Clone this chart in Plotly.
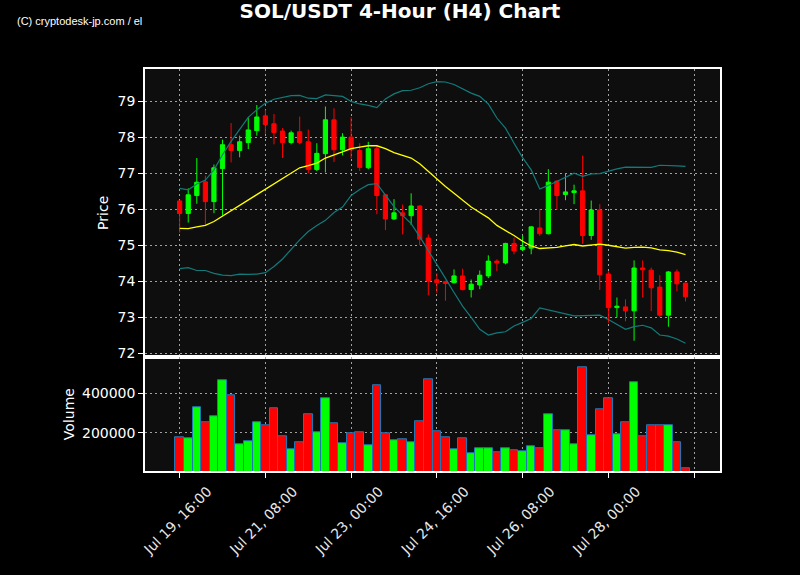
import pandas as pd
import plotly.graph_objects as go

# ---- data ----
start_time = "2024-07-19 16:00"
n_candles = 60

open_ = [76.23, 75.88, 76.38, 76.76, 76.21, 77.13, 77.79, 77.63, 77.85, 78.18,
         78.59, 78.37, 78.17, 77.85, 78.15, 77.87, 77.10, 77.54, 78.48, 77.65,
         78.00, 77.63, 77.15, 77.68, 76.40, 75.73, 75.90, 75.82, 76.09, 75.20,
         74.04, 73.99, 73.96, 74.15, 73.77, 73.90, 74.15, 74.56, 74.51, 75.05,
         74.88, 74.92, 75.48, 75.32, 76.78, 76.41, 76.46, 76.51, 75.27, 75.98,
         74.20, 73.27, 73.29, 73.18, 74.37, 74.31, 73.84, 73.06, 74.26, 73.95]
close = [75.88, 76.40, 76.75, 76.21, 77.15, 77.79, 77.63, 77.87, 78.20, 78.56,
         78.35, 78.13, 77.85, 78.12, 77.85, 77.10, 77.55, 78.48, 77.65, 78.00,
         77.65, 77.16, 77.68, 76.38, 75.73, 75.90, 75.82, 76.09, 75.17, 74.01,
         73.96, 73.94, 74.15, 73.77, 73.92, 74.17, 74.56, 74.51, 75.05, 74.84,
         74.95, 75.51, 75.32, 76.75, 76.38, 76.48, 76.51, 75.27, 75.98, 74.18,
         73.27, 73.31, 73.18, 74.37, 74.32, 73.82, 73.06, 74.26, 73.93, 73.57]
high = [76.25, 76.58, 77.42, 76.93, 77.24, 77.93, 78.39, 78.04, 78.55, 78.89,
        78.76, 78.64, 78.25, 78.18, 78.57, 78.21, 77.83, 78.85, 78.80, 78.11,
        78.55, 77.83, 77.87, 77.76, 76.42, 76.28, 76.13, 76.44, 76.11, 75.30,
        74.22, 74.02, 74.33, 74.35, 74.05, 74.30, 74.72, 74.61, 75.07, 75.21,
        75.28, 75.53, 76.01, 77.11, 76.80, 77.00, 76.68, 77.49, 76.24, 76.14,
        74.28, 73.55, 73.50, 74.58, 74.58, 74.38, 74.17, 74.28, 74.33, 73.97]
low = [75.35, 75.63, 76.15, 75.55, 75.89, 75.82, 77.30, 77.44, 77.67, 78.04,
       78.09, 77.80, 77.42, 77.80, 77.80, 77.00, 77.06, 77.02, 77.31, 77.49,
       77.41, 77.06, 77.11, 75.86, 75.42, 75.70, 75.30, 75.56, 75.00, 73.61,
       73.68, 73.46, 73.94, 73.75, 73.55, 73.78, 74.09, 74.28, 74.47, 74.75,
       74.84, 74.75, 75.26, 75.30, 75.98, 76.25, 76.14, 75.04, 75.15, 73.76,
       72.85, 73.00, 72.89, 72.35, 73.55, 73.17, 73.00, 72.74, 73.72, 73.44]
volume = [180000, 175000, 330000, 255000, 285000, 465000, 388000, 145000, 158000, 255000,
          240000, 325000, 185000, 118000, 155000, 295000, 205000, 375000, 250000, 150000,
          200000, 205000, 140000, 440000, 200000, 165000, 170000, 155000, 260000, 470000,
          210000, 180000, 115000, 175000, 95000, 120000, 125000, 100000, 125000, 110000,
          105000, 135000, 125000, 295000, 215000, 215000, 145000, 530000, 190000, 320000,
          375000, 195000, 255000, 455000, 185000, 240000, 236000, 240000, 155000, 20000]
ma20 = [75.47, 75.46, 75.51, 75.55, 75.66, 75.81, 75.96, 76.11, 76.26, 76.42,
        76.56, 76.72, 76.86, 77.01, 77.15, 77.21, 77.28, 77.42, 77.50, 77.58,
        77.68, 77.72, 77.76, 77.76, 77.68, 77.57, 77.50, 77.42, 77.26, 77.05,
        76.83, 76.63, 76.44, 76.24, 76.06, 75.91, 75.76, 75.55, 75.42, 75.27,
        75.11, 74.98, 74.91, 74.92, 74.94, 74.98, 75.02, 74.98, 75.01, 75.03,
        75.00, 74.97, 74.92, 74.94, 74.95, 74.93, 74.87, 74.85, 74.81, 74.74]
bb_upper = [76.58, 76.54, 76.70, 76.81, 77.09, 77.51, 77.88, 78.22, 78.55, 78.76,
            78.94, 79.05, 79.11, 79.15, 79.16, 79.08, 79.07, 79.17, 79.15, 79.13,
            78.99, 78.92, 78.88, 78.82, 79.06, 79.20, 79.29, 79.30, 79.37, 79.48,
            79.54, 79.53, 79.46, 79.34, 79.22, 79.13, 78.92, 78.53, 78.25, 77.83,
            77.43, 77.09, 76.56, 76.66, 76.78, 76.89, 77.00, 76.91, 76.98, 76.99,
            77.06, 77.12, 77.17, 77.16, 77.15, 77.16, 77.22, 77.22, 77.20, 77.19]
bb_lower = [74.35, 74.38, 74.30, 74.30, 74.22, 74.17, 74.16, 74.20, 74.19, 74.20,
            74.24, 74.41, 74.62, 74.89, 75.15, 75.38, 75.55, 75.69, 75.91, 76.06,
            76.38, 76.55, 76.68, 76.71, 76.39, 76.07, 75.83, 75.60, 75.24, 74.84,
            74.46, 74.08, 73.69, 73.31, 73.00, 72.67, 72.51, 72.57, 72.60, 72.76,
            72.86, 72.97, 73.26, 73.20, 73.15, 73.09, 73.04, 73.05, 73.05, 73.06,
            72.94, 72.81, 72.67, 72.74, 72.78, 72.71, 72.51, 72.48, 72.40, 72.28]

tick_times = ["2024-07-19 16:00", "2024-07-21 08:00", "2024-07-23 00:00",
              "2024-07-24 16:00", "2024-07-26 08:00", "2024-07-28 00:00",
              "2024-07-29 16:00"]
tick_labels = ["Jul 19, 16:00", "Jul 21, 08:00", "Jul 23, 00:00",
               "Jul 24, 16:00", "Jul 26, 08:00", "Jul 28, 00:00", ""]
price_ticks = [72, 73, 74, 75, 76, 77, 78, 79]
volume_ticks = [200000, 400000]
volume_tick_labels = ["200000", "400000"]

times = pd.date_range(start_time, periods=n_candles, freq="4h")

# ---- styling ----
GREEN = "#00ff00"
RED = "#ff0000"
BAND = "#137a7a"
FONT = "DejaVu Sans"
GRID = "#a0a0a0"
x_range = ["2024-07-18 23:50", "2024-07-30 04:05"]

bar_colors = [GREEN if c >= o else RED for o, c in zip(open_, close)]

fig = go.Figure()
fig.add_trace(go.Scatter(x=times, y=bb_upper, mode="lines",
                         line=dict(color=BAND, width=1.2), xaxis="x", yaxis="y",
                         showlegend=False, hoverinfo="skip"))
fig.add_trace(go.Scatter(x=times, y=bb_lower, mode="lines",
                         line=dict(color=BAND, width=1.2), xaxis="x", yaxis="y",
                         showlegend=False, hoverinfo="skip"))
fig.add_trace(go.Scatter(x=times, y=ma20, mode="lines",
                         line=dict(color="#ffff00", width=1.3), xaxis="x", yaxis="y",
                         showlegend=False, hoverinfo="skip"))
fig.add_trace(go.Candlestick(
    x=times, open=open_, high=high, low=low, close=close,
    increasing=dict(line=dict(color=GREEN, width=1), fillcolor=GREEN),
    decreasing=dict(line=dict(color=RED, width=1), fillcolor=RED),
    xaxis="x", yaxis="y", showlegend=False))
fig.add_trace(go.Bar(
    x=times, y=volume, width=4 * 3600 * 1000,
    marker=dict(color=bar_colors, line=dict(color="#1f77b4", width=1)),
    xaxis="x2", yaxis="y2", showlegend=False))

axis_common = dict(showline=True, linecolor="white", linewidth=1.5, mirror=True,
                   showgrid=True, gridcolor=GRID, gridwidth=1, griddash="2px,3px",
                   zeroline=False, tickfont=dict(family=FONT, size=14, color="white"),
                   ticks="outside", tickcolor="white", ticklen=5, automargin=False)

fig.update_layout(
    width=800, height=575,
    paper_bgcolor="black", plot_bgcolor="#0e0e0e",
    margin=dict(l=145, r=80, t=69, b=104, autoexpand=False),
    showlegend=False,
    title=dict(text="<b>SOL/USDT 4-Hour (H4) Chart</b>", x=0.5, xanchor="center",
               y=1 - 11 / 575, yanchor="middle", yref="container", automargin=False,
               font=dict(family=FONT, size=20, color="white")),
    xaxis=dict(axis_common, domain=[0, 1], range=x_range, anchor="y",
               tickvals=tick_times, ticktext=tick_labels, showticklabels=False,
               ticks="", rangeslider=dict(visible=False), matches="x2"),
    yaxis=dict(axis_common, domain=[0.2845, 1], range=[71.91, 79.89], anchor="x",
               tickvals=price_ticks,
               title=dict(text="Price", font=dict(family=FONT, size=14, color="white"),
                          standoff=6)),
    xaxis2=dict(axis_common, domain=[0, 1], range=x_range, anchor="y2",
                tickvals=tick_times, ticktext=tick_labels, tickangle=-45,
                ticklabelshift=28,
                tickfont=dict(family=FONT, size=14, color="#e8e8e8")),
    yaxis2=dict(axis_common, domain=[0, 0.283], range=[8000, 580000], anchor="x2",
                tickvals=volume_ticks, ticktext=volume_tick_labels,
                title=dict(text="Volume", font=dict(family=FONT, size=14, color="white"),
                           standoff=4)),
    bargap=0,
    annotations=[dict(text="(C) cryptodesk-jp.com / el", xref="paper", yref="paper",
                      x=-130 / 575, y=1 + 48 / 402, xanchor="left", yanchor="middle",
                      showarrow=False,
                      font=dict(family="Liberation Sans Narrow, Liberation Sans", size=11,
                                color="white"))],
)

fig.write_html("out.html",
               config={"displayModeBar": False},
               post_script="document.body.style.margin='0';"
                           "document.body.style.background='black';")
